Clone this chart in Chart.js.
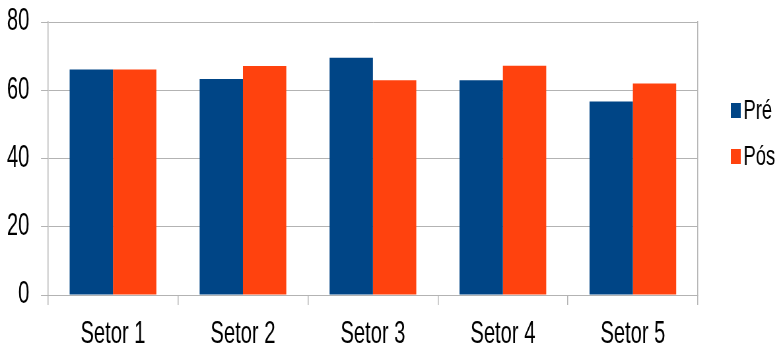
<!DOCTYPE html>
<html>
<head>
<meta charset="utf-8">
<script src="https://cdn.jsdelivr.net/npm/chart.js@4/dist/chart.umd.min.js"></script>
<style>
  html, body { margin: 0; padding: 0; background: #fff; overflow: hidden; width: 779px; height: 349px; }
  /* the chart is laid out wide and condensed horizontally, giving narrow lettering */
  #wrap { width: 1180px; height: 349px; position: absolute; left: 0; top: 0;
          transform: scaleX(0.6602); transform-origin: 0 0; }
</style>
</head>
<body>
<div id="wrap"><canvas id="c"></canvas></div>
<script>
// Sector scores before and after
const categories = ['Setor 1', 'Setor 2', 'Setor 3', 'Setor 4', 'Setor 5'];
const seriesNames = ['Pré', 'Pós'];
const preValues = [66.1, 63.3, 69.5, 62.9, 56.7];
const posValues = [66.1, 67.1, 62.9, 67.2, 62.0];
const yTicks = [0, 20, 40, 60, 80];

const FONT = "'Liberation Sans', Arial, sans-serif";
const GRID = '#b3b3b3';

// Legend drawn at the right of the plot
const sideLegend = {
  id: 'sideLegend',
  afterDraw(chart) {
    const ctx = chart.ctx;
    ctx.save();
    ctx.font = '28px ' + FONT;
    ctx.textBaseline = 'middle';
    ctx.textAlign = 'left';
    chart.data.datasets.forEach((ds, i) => {
      const cy = 110 + i * 46;
      ctx.fillStyle = ds.backgroundColor;
      ctx.fillRect(1107, cy - 7, 15, 15);
      ctx.fillStyle = '#000';
      ctx.fillText(ds.label, 1126, cy + 1);
    });
    ctx.restore();
  }
};

new Chart(document.getElementById('c'), {
  type: 'bar',
  data: {
    labels: categories,
    datasets: [
      { label: seriesNames[0], data: preValues, backgroundColor: '#004586' },
      { label: seriesNames[1], data: posValues, backgroundColor: '#ff420e' }
    ]
  },
  options: {
    responsive: true,
    maintainAspectRatio: false,
    devicePixelRatio: 1,
    animation: false,
    layout: { padding: { top: 22, right: 123, left: 0, bottom: 0 } },
    datasets: { bar: { categoryPercentage: 0.667, barPercentage: 1.0 } },
    plugins: { legend: { display: false }, tooltip: { enabled: false } },
    scales: {
      x: {
        grid: { offset: true, drawOnChartArea: false, drawTicks: true, tickLength: 10, color: GRID, lineWidth: 1.5 },
        border: { display: true, color: GRID },
        ticks: { color: '#000', font: { family: FONT, size: 30.5 }, padding: 11, maxRotation: 0 },
        afterFit(scale) { scale.height = 54; scale.paddingLeft = 0; scale.paddingRight = 0; }
      },
      y: {
        min: 0, max: 80,
        afterBuildTicks(scale) { scale.ticks = yTicks.map(v => ({ value: v })); },
        grid: { color: GRID, tickLength: 10.6, drawTicks: true },
        border: { display: true, color: GRID, width: 1.5 },
        ticks: { color: '#000', font: { family: FONT, size: 30.5 }, padding: 17.7 },
        afterFit(scale) { scale.width = 72.7; scale.paddingTop = 0; scale.paddingBottom = 0; }
      },
      yRight: {
        position: 'right',
        min: 0, max: 80,
        grid: { drawOnChartArea: false, drawTicks: false },
        border: { display: true, color: GRID, width: 1.5 },
        ticks: { display: false },
        afterFit(scale) { scale.width = 0; scale.paddingTop = 0; scale.paddingBottom = 0; }
      }
    }
  },
  plugins: [sideLegend]
});
</script>
</body>
</html>
